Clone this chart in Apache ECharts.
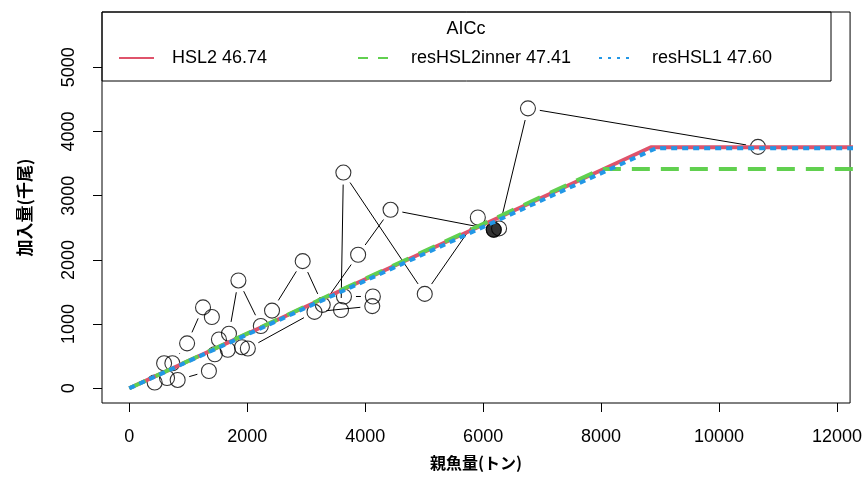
<!DOCTYPE html>
<html>
<head>
<meta charset="utf-8">
<script src="https://cdn.jsdelivr.net/npm/echarts@6/dist/echarts.min.js"></script>
<style>
html,body{margin:0;padding:0;background:#fff;}
#chart{width:865px;height:497px;}
</style>
</head>
<body>
<div id="chart"></div>
<script>
// ---- data ----
const modelNames = ["HSL2", "resHSL2inner", "resHSL1"];
const aiccValues = ["46.74", "47.41", "47.60"];
const legendTitle = "AICc";
const xAxisTitle = "親魚量(トン)";
const yAxisTitle = "加入量(千尾)";

// observed spawner (SSB, t) and recruit (thousand fish), in time order; last is the latest year
const ssb = [10660, 6760, 6270, 5910, 5010, 3630, 3590, 3640, 4130, 4120, 3140, 2010, 1910, 1670, 1450, 1350, 820, 430, 640, 590, 730, 980, 1250, 1400, 1520, 1690, 1850, 2230, 2420, 2940, 3280, 3880, 4430, 6180];
const rec = [3760, 4360, 2490, 2660, 1470, 3360, 1220, 1430, 1430, 1280, 1190, 620, 640, 600, 530, 270, 130, 90, 160, 390, 390, 700, 1260, 1110, 760, 850, 1680, 970, 1210, 1980, 1300, 2080, 2780, 2470];

// hockey-stick fits: breakpoints
const hsl2X = [0, 8844, 12400];
const hsl2Y = [0, 3754, 3754];
const innerX = [0, 8005, 12400];
const innerY = [0, 3416, 3416];
const res1X = [0, 8928, 12400];
const res1Y = [0, 3738, 3738];

const xTicks = [0, 2000, 4000, 6000, 8000, 10000, 12000];
const yTicks = [0, 1000, 2000, 3000, 4000, 5000];

// ---- build ----
const FONT = "'Liberation Sans', Arial, Helvetica, sans-serif";
const CJK = "'Noto Sans CJK JP', 'Noto Sans CJK SC', sans-serif";
const colors = ['#DF536B', '#61D04F', '#2297E6'];
const names = modelNames.map((m, i) => m + ' ' + aiccValues[i]);
const pairs = (xs, ys) => xs.map((x, i) => [x, ys[i]]);

const pts = ssb.map((x, i) => [x, rec[i]]);
const segs = [];
for (let i = 0; i < pts.length - 1; i++) segs.push([pts[i][0], pts[i][1], pts[i + 1][0], pts[i + 1][1]]);
const lastPt = [pts[pts.length - 1]];
const GAP = 12;

const chart = echarts.init(document.getElementById('chart'), null, {renderer: 'canvas'});
const legendBase = {
  orient: 'horizontal', top: 49, itemWidth: 35, itemHeight: 10,
  itemStyle: {opacity: 0},
  textStyle: {fontFamily: FONT, fontSize: 18, color: '#000', padding: [0, 0, 0, 13]},
  selectedMode: false, padding: 0
};
const option = {
  animation: false,
  backgroundColor: '#fff',
  title: {
    text: legendTitle, left: 466, top: 20, textAlign: 'center', padding: 0,
    textStyle: {fontFamily: FONT, fontSize: 18, fontWeight: 'normal', color: '#000'}
  },
  legend: [
    Object.assign({}, legendBase, {left: 118, data: [{name: names[0], lineStyle: {width: 2, type: 'solid'}}]}),
    Object.assign({}, legendBase, {left: 357, data: [{name: names[1], lineStyle: {width: 2, type: [10, 10]}}]}),
    Object.assign({}, legendBase, {left: 598, data: [{name: names[2], lineStyle: {width: 2, type: [3, 6]}}]})
  ],
  grid: {left: 102, right: 7, top: 12, bottom: 94, show: true, borderColor: '#000', borderWidth: 1, backgroundColor: 'transparent'},
  graphic: [{
    type: 'rect', shape: {x: 102, y: 12, width: 729, height: 69},
    style: {fill: 'rgba(0,0,0,0)', stroke: '#000', lineWidth: 1}, z: 100, silent: true
  }],
  xAxis: {
    type: 'value', min: -463, max: 12222,
    name: xAxisTitle, nameLocation: 'middle', nameGap: 52,
    nameTextStyle: {fontFamily: CJK, fontSize: 16, fontWeight: 'bold', color: '#000'},
    axisLine: {show: false, onZero: false},
    axisTick: {show: true, customValues: xTicks, length: 9, lineStyle: {color: '#000', width: 1}},
    axisLabel: {customValues: xTicks, formatter: v => String(v), margin: 25, fontFamily: FONT, fontSize: 18, color: '#000'},
    splitLine: {show: false}
  },
  yAxis: {
    type: 'value', min: -229, max: 5861,
    name: yAxisTitle, nameLocation: 'middle', nameGap: 69, nameRotate: 90,
    nameTextStyle: {fontFamily: CJK, fontSize: 17, fontWeight: 'bold', color: '#000'},
    axisLine: {show: false, onZero: false},
    axisTick: {show: true, customValues: yTicks, length: 9, lineStyle: {color: '#000', width: 1}},
    axisLabel: {customValues: yTicks, formatter: v => String(v), rotate: 90, margin: 24, fontFamily: FONT, fontSize: 18, color: '#000'},
    splitLine: {show: false}
  },
  series: [
    {
      type: 'custom', name: 'path', coordinateSystem: 'cartesian2d', data: segs, z: 2,
      encode: {x: [0, 2], y: [1, 3]}, silent: true,
      renderItem: function (params, api) {
        const p1 = api.coord([api.value(0), api.value(1)]);
        const p2 = api.coord([api.value(2), api.value(3)]);
        const dx = p2[0] - p1[0], dy = p2[1] - p1[1];
        const d = Math.sqrt(dx * dx + dy * dy);
        if (d <= 2 * GAP) return null;
        const ux = dx / d, uy = dy / d;
        return {
          type: 'line',
          shape: {x1: p1[0] + ux * GAP, y1: p1[1] + uy * GAP, x2: p2[0] - ux * GAP, y2: p2[1] - uy * GAP},
          style: {stroke: '#000', lineWidth: 1}
        };
      }
    },
    {
      type: 'scatter', name: 'obs', data: pts, z: 3, symbol: 'circle', symbolSize: 15, silent: true,
      itemStyle: {color: 'rgba(0,0,0,0)', borderColor: '#000', borderWidth: 1.1}
    },
    {
      type: 'scatter', name: 'latest', data: lastPt, z: 4, symbol: 'circle', symbolSize: 15, silent: true,
      itemStyle: {color: '#000', borderColor: '#000', borderWidth: 1}
    },
    {
      type: 'line', name: names[0], data: pairs(hsl2X, hsl2Y), z: 5, symbol: 'none', clip: true, silent: true,
      lineStyle: {color: colors[0], width: 4, type: 'solid'}, itemStyle: {color: colors[0]}
    },
    {
      type: 'line', name: names[1], data: pairs(innerX, innerY), z: 6, symbol: 'none', clip: true, silent: true,
      lineStyle: {color: colors[1], width: 4, type: [18, 11]}, itemStyle: {color: colors[1]}
    },
    {
      type: 'line', name: names[2], data: pairs(res1X, res1Y), z: 7, symbol: 'none', clip: true, silent: true,
      lineStyle: {color: colors[2], width: 4, type: [6, 5]}, itemStyle: {color: colors[2]}
    }
  ]
};
chart.setOption(option);
</script>
</body>
</html>
